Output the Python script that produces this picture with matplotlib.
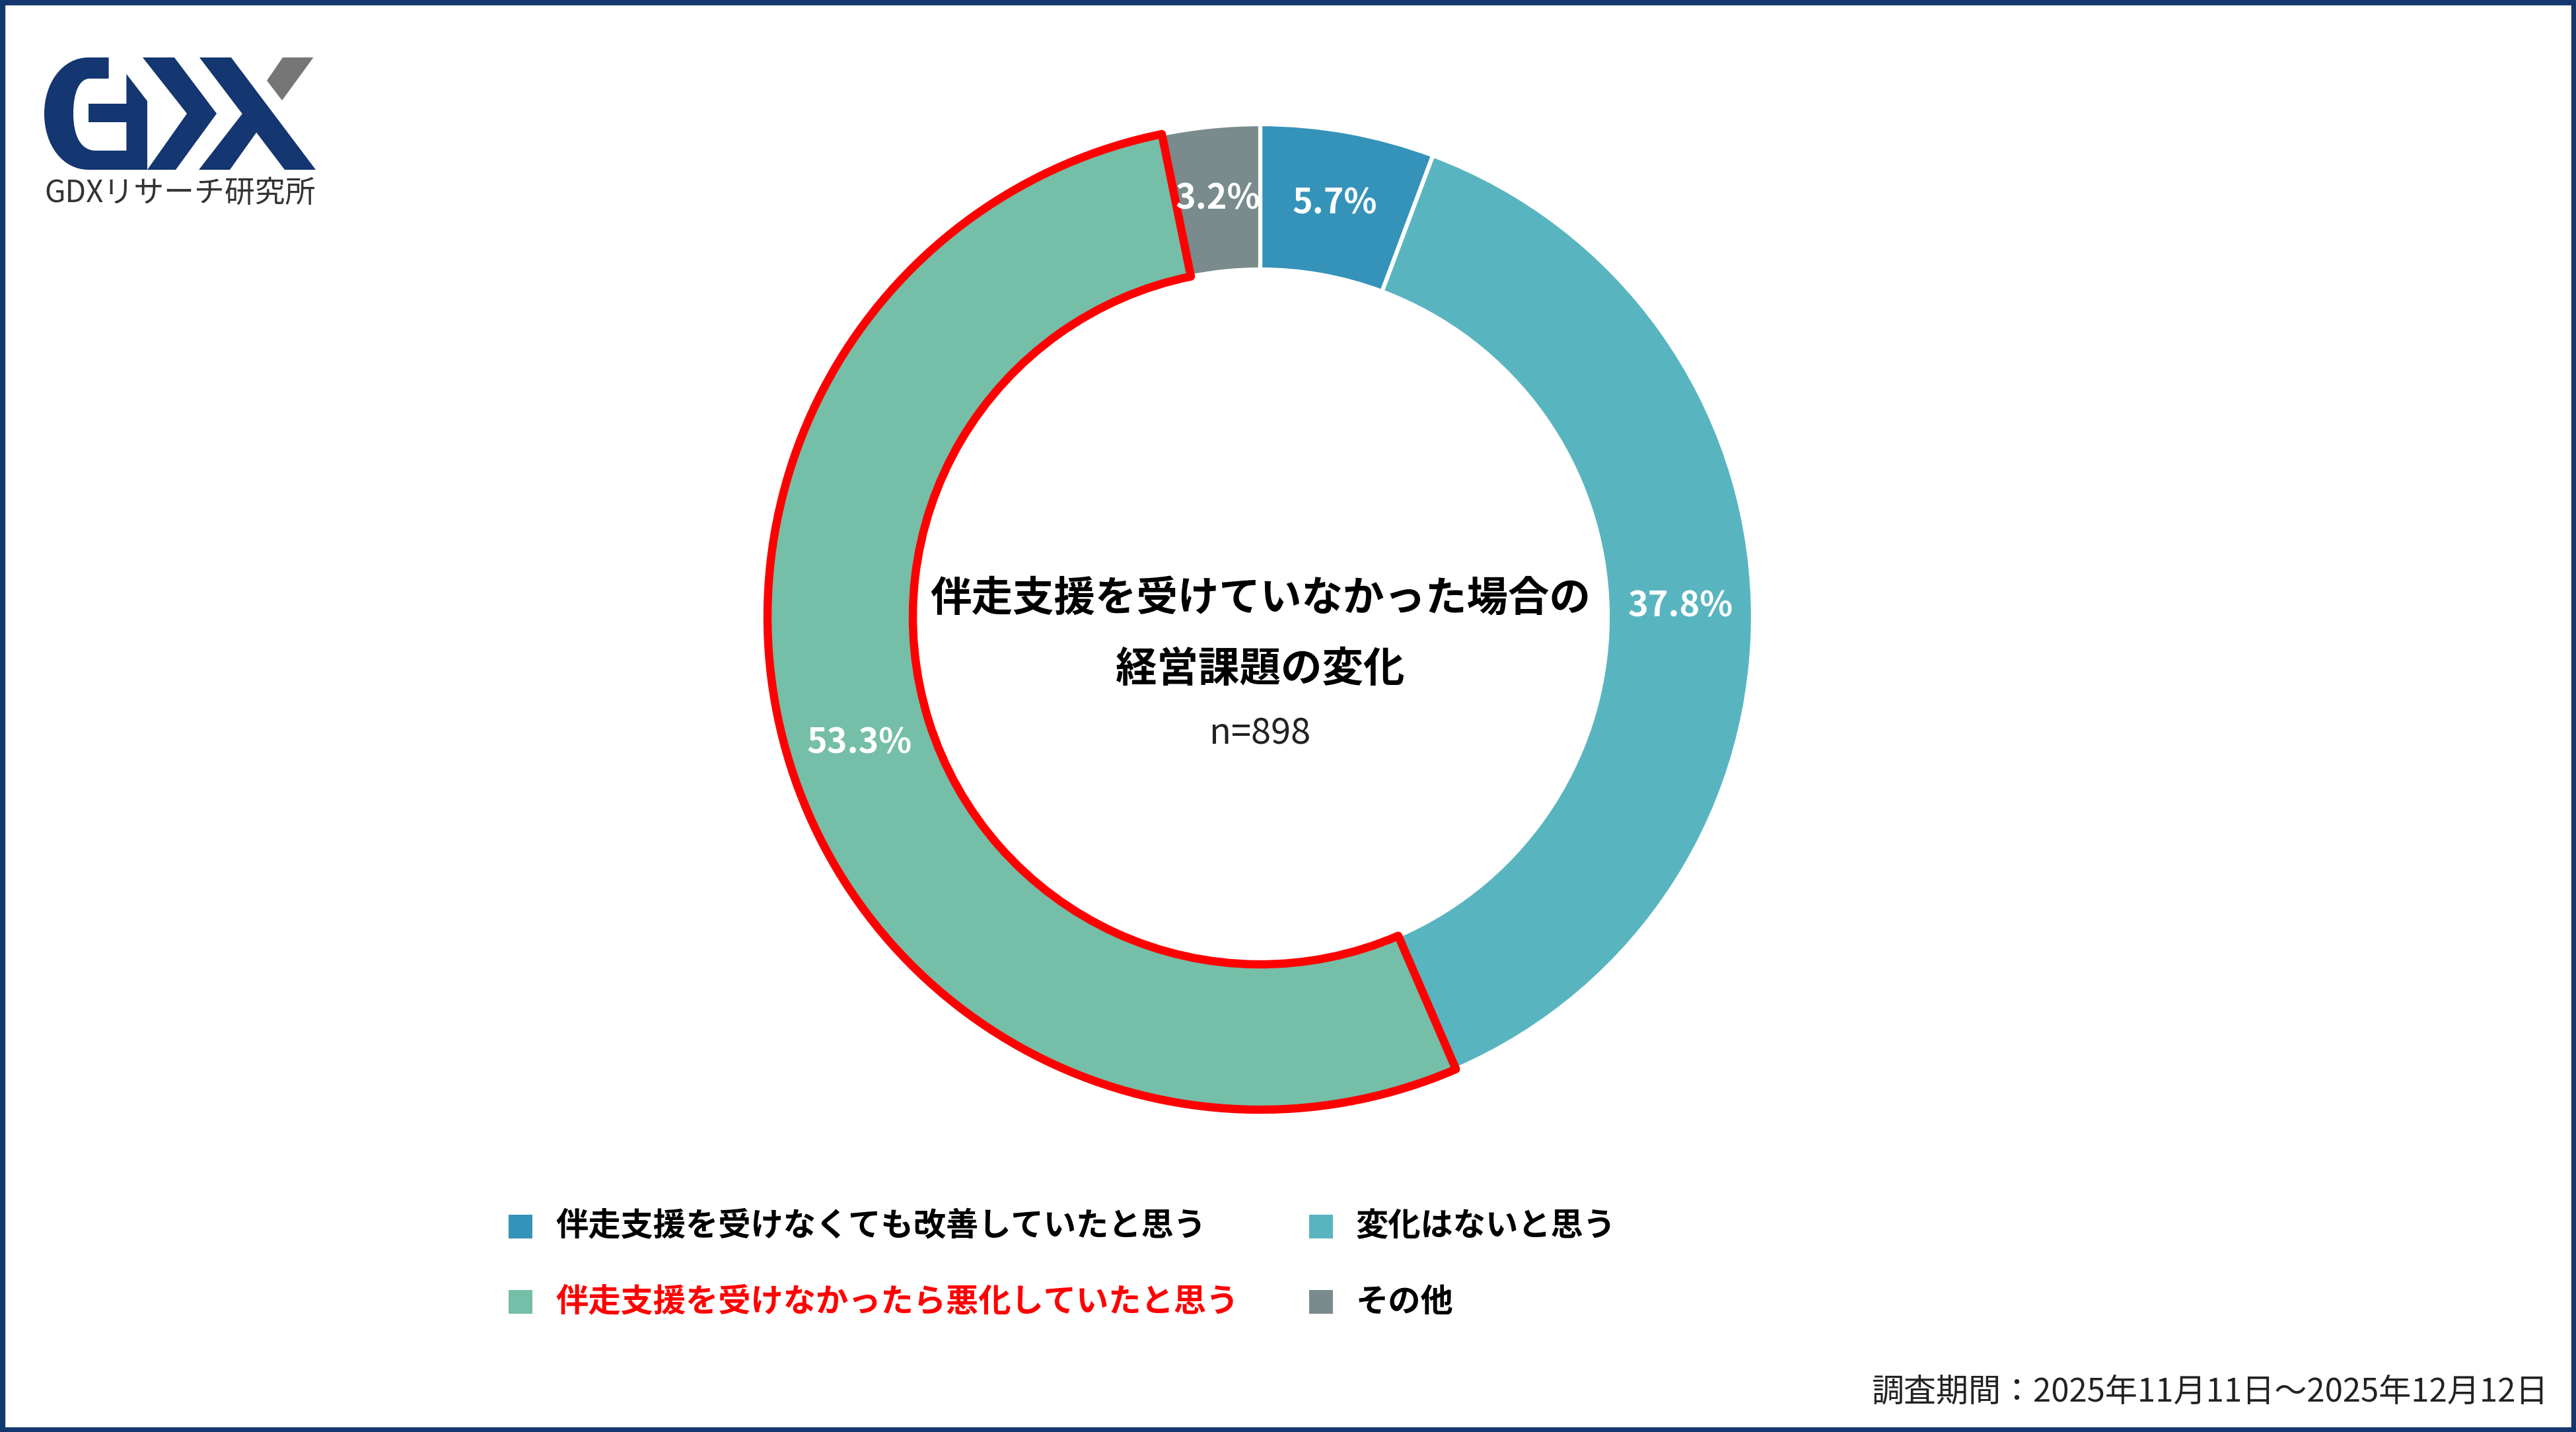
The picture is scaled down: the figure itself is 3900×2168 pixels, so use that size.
import matplotlib
matplotlib.use("Agg")
import matplotlib.pyplot as plt
from matplotlib.patches import Rectangle, Polygon, PathPatch
from matplotlib.path import Path

plt.rcParams['font.family'] = ['Noto Sans CJK JP', 'DejaVu Sans']

# データ
categories = ['伴走支援を受けなくても改善していたと思う', '変化はないと思う',
              '伴走支援を受けなかったら悪化していたと思う', 'その他']
values = [5.7, 37.8, 53.3, 3.2]
colors = ['#3593BA', '#58B5C0', '#75BEA8', '#798B8D']
highlight = 2  # 赤枠で強調する項目
title_lines = ['伴走支援を受けていなかった場合の', '経営課題の変化']
n_text = 'n=898'
period_text = '調査期間：2025年11月11日～2025年12月12日'
logo_text = 'GDXリサーチ研究所'

W, H = 3900, 2168
NAVY = '#15376F'


def fy(y):
    # 上からのピクセル座標 -> 下からの座標
    return H - y


fig = plt.figure(figsize=(W / 100, H / 100), dpi=100)
ax = fig.add_axes([0, 0, 1, 1])

# ドーナツ
cx, cy, r = 1908, fy(934), 746
wedges, texts, autotexts = ax.pie(
    values, colors=colors, startangle=90, counterclock=False,
    center=(cx, cy), radius=r,
    wedgeprops=dict(width=220, edgecolor='white', linewidth=4.5),
    autopct='%.1f%%', pctdistance=0.853,
    textprops=dict(color='white', fontsize=37.5, fontweight='bold'))
wedges[highlight].set_edgecolor('#FF0000')
wedges[highlight].set_linewidth(9)
wedges[highlight].set_joinstyle('round')
wedges[highlight].set_zorder(5)
for t in autotexts:
    t.set_zorder(6)

# 中央のテキスト
ax.text(cx, fy(906), title_lines[0], ha='center', va='center', fontsize=45, fontweight='bold', color='black')
ax.text(cx, fy(1013), title_lines[1], ha='center', va='center', fontsize=45, fontweight='bold', color='black')
ax.text(cx, fy(1111), n_text, ha='center', va='center', fontsize=39, color='#222222')

# 凡例
leg_pos = [(788, 1857), (2000, 1857), (788, 1971), (2000, 1971)]
sq = 36
for i, (lab, col) in enumerate(zip(categories, colors)):
    x, y = leg_pos[i]
    ax.add_patch(Rectangle((x - sq / 2, fy(y) - sq / 2), sq, sq, facecolor=col, edgecolor='none'))
    ax.text(x + 53, fy(y), lab, ha='left', va='center', fontsize=35.5, fontweight='bold',
            color='#FF0000' if i == highlight else 'black')

# 調査期間
ax.text(3858, fy(2108), period_text, ha='right', va='center', fontsize=35.3, color='#222222')

# ロゴ
g_pts = [(164.6, 87), (134, 87), (95, 87), (67, 125), (67, 172), (67, 220), (95, 257), (134, 257),
         (223, 257), (223, 153), (191.4, 112), (191.4, 157), (134, 157), (134, 185), (191.4, 185),
         (191.4, 228), (145, 228), (122, 228), (111, 205), (111, 172), (111, 140), (120, 119),
         (136, 119), (164.6, 119), (164.6, 87)]
g_codes = [Path.MOVETO, Path.LINETO, Path.CURVE4, Path.CURVE4, Path.CURVE4, Path.CURVE4, Path.CURVE4,
           Path.CURVE4, Path.LINETO, Path.LINETO, Path.LINETO, Path.LINETO, Path.LINETO, Path.LINETO,
           Path.LINETO, Path.LINETO, Path.LINETO, Path.CURVE4, Path.CURVE4, Path.CURVE4, Path.CURVE4,
           Path.CURVE4, Path.CURVE4, Path.LINETO, Path.CLOSEPOLY]
ax.add_patch(PathPatch(Path([(x, fy(y)) for x, y in g_pts], g_codes), facecolor='#143671', edgecolor='none'))
shapes = [
    ([(216, 87), (264, 87), (328, 172), (266, 257), (223, 257), (283, 172)], '#143671'),
    ([(302, 87), (350, 87), (478, 257), (431, 257)], '#143671'),
    ([(367, 172), (301, 257), (348, 257), (390, 198)], '#143671'),
    ([(428, 87), (474.5, 87), (427, 152), (404, 122)], '#767676'),
]
for pts, col in shapes:
    ax.add_patch(Polygon([(x, fy(y)) for x, y in pts], closed=True, facecolor=col, edgecolor='none'))
ax.text(67, fy(293), logo_text, ha='left', va='center', fontsize=33, color='#333333')

# 外枠
ax.add_patch(Rectangle((0, 0), W, H, facecolor='none', edgecolor=NAVY, linewidth=11, zorder=10))

ax.set_xlim(0, W)
ax.set_ylim(0, H)
ax.set_aspect('auto')
ax.axis('off')

fig.savefig('out.png', dpi=100)
